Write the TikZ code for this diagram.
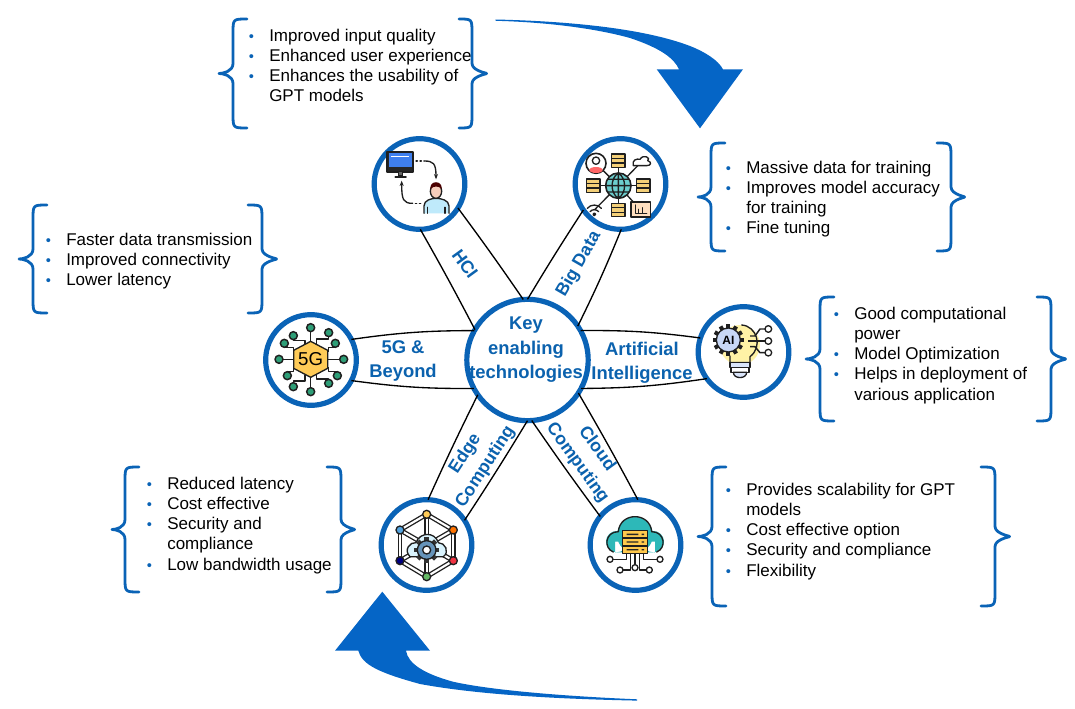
\documentclass[tikz,border=0pt]{standalone}
\usepackage{fontspec}
\setmainfont{Liberation Sans}
\usetikzlibrary{calc,arrows.meta}
\definecolor{ringblue}{HTML}{0A63B6}
\definecolor{labelblue}{HTML}{0B62AE}
\definecolor{arrowblue}{HTML}{0565C6}
\definecolor{yel}{HTML}{FFCB57}
\definecolor{grn}{HTML}{2E9E77}
\definecolor{teal1}{HTML}{2DB8B8}
\definecolor{pale}{HTML}{C8D8F6}
\definecolor{stackc}{HTML}{F3CF78}
\definecolor{screenb}{HTML}{3F7FEE}
\definecolor{skin}{HTML}{F6CDBB}
\newcommand{\bul}{\llap{\textcolor{ringblue}{\fontsize{11}{11}\selectfont •}\hspace{11.5pt}}}
% brace: xend, xbody, xtip, top, bottom
\newcommand{\bracepath}[5]{
  \draw[bracestyle] (#1,#4) .. controls ({#2},#4) and ({#2},#4) .. ({#2},{#4+14})
    -- ({#2},{(#4+#5)/2-10}) .. controls ({#2},{(#4+#5)/2-2}) and ({#3+4},{(#4+#5)/2}) .. (#3,{(#4+#5)/2})
    .. controls ({#3+4},{(#4+#5)/2}) and ({#2},{(#4+#5)/2+2}) .. ({#2},{(#4+#5)/2+10})
    -- ({#2},{#5-14}) .. controls ({#2},#5) and ({#2},#5) .. (#1,#5);
}
\tikzset{
  bracestyle/.style={draw=ringblue,line width=2.1pt,line cap=round,line join=round,fill=none},
  ring/.style={circle,draw=ringblue,line width=3.9pt,fill=white,minimum size=68pt,inner sep=0pt,outer sep=0pt},
  hubring/.style={circle,draw=ringblue,line width=3.9pt,fill=white,minimum size=91pt,inner sep=0pt,outer sep=0pt},
  spoke/.style={draw=black,line width=1pt},
  spokelabel/.style={font=\bfseries\fontsize{13.8}{18.3}\selectfont,text=labelblue,align=center,inner sep=0pt},
  tiltlabel/.style={font=\bfseries\fontsize{13.3}{18}\selectfont,text=labelblue,align=center,inner sep=0pt},
  bullets/.style={font=\fontsize{12.75}{15.2}\selectfont,align=left,anchor=north west,inner sep=0pt,text=black},
  zoomcs/.style 2 args={shift={(#1,#2)},x=0.25pt,y=-0.25pt},
  ink/.style={draw=black!88,line width=1pt,line join=round,line cap=round},
  wire/.style={draw=black!88,line width=1pt},
}
\begin{document}
\begin{tikzpicture}[x=0.75pt,y=-0.75pt]
\useasboundingbox (0,0) rectangle (1075,709);
\fill[white] (0,0) rectangle (1075,709);

% nodes
\node[hubring] (hub) at (527.5,360) {};
\node[spokelabel] (hubtext) at (526,350) {Key\\enabling\\technologies};
\node[ring] (hci) at (419.5,184) {};
\node[ring] (bigdata) at (620.5,184) {};
\node[ring] (fiveg) at (311,360) {};
\node[ring] (ai) at (743.5,352) {};
\node[ring] (edge) at (426.5,545) {};
\node[ring] (cloud) at (635.5,545) {};

% spokes
\draw[spoke] (hci.-89) to[bend left=1] (hub.150);
\draw[spoke] (hci.-32) to[bend left=1] (hub.94);
\draw[spoke] (bigdata.215) to[bend right=1] (hub.90);
\draw[spoke] (bigdata.-89) to[bend left=2] (hub.34);
\draw[spoke] (fiveg.27) to[bend left=4] (hub.151);
\draw[spoke] (fiveg.-27) to[bend right=4] (hub.208);
\draw[spoke] (ai.162) to[bend right=4] (hub.29);
\draw[spoke] (ai.216) to[bend left=4] (hub.-28);
\draw[spoke] (edge.88) to[bend left=1] (hub.215);
\draw[spoke] (edge.33) to[bend right=1] (hub.270);
\draw[spoke] (cloud.141) to[bend left=1] (hub.-86);
\draw[spoke] (cloud.87) to[bend right=1] (hub.-33);

% spoke labels
\node[tiltlabel,rotate=-54] (lhci) at (465,264) {HCI};
\node[tiltlabel,rotate=60] (lbig) at (579,264) {Big Data};
\node[spokelabel] (l5g) at (403,361) {5G \&\\Beyond};
\node[spokelabel] (lai) at (642,362.5) {Artificial\\Intelligence};
\node[tiltlabel,rotate=57] (ledge) at (475.5,460.5) {Edge\\Computing};
\node[tiltlabel,rotate=-54] (lcloud) at (587,456) {Cloud\\Computing};

% text blocks
\node[bullets] (t1) at (269,28.5) {\bul Improved input quality\\\bul Enhanced user experience\\\bul Enhances the usability of\\GPT models};
\node[bullets] (t2) at (746,160.5) {\bul Massive data for training\\\bul Improves model accuracy\\for training\\\bul Fine tuning};
\node[bullets] (t3) at (66,232.5) {\bul Faster data transmission\\\bul Improved connectivity\\\bul Lower latency};
\node[bullets] (t4) at (854,306.5) {\bul Good computational\\power\\\bul Model Optimization\\\bul Helps in deployment of\\various application};
\node[bullets] (t5) at (167,476.5) {\bul Reduced latency\\\bul Cost effective\\\bul Security and\\compliance\\\bul Low bandwidth usage};
\node[bullets] (t6) at (746,482.5) {\bul Provides scalability for GPT\\models\\\bul Cost effective option\\\bul Security and compliance\\\bul Flexibility};

% braces
\bracepath{247}{233}{219}{19}{128}
\bracepath{459}{472}{486}{19}{128}
\bracepath{725}{711}{698}{143}{251}
\bracepath{937}{951}{964}{143}{251}
\bracepath{47}{33}{19}{205}{313}
\bracepath{248}{262}{276}{205}{313}
\bracepath{834}{820}{806}{297}{421}
\bracepath{1037}{1051}{1065}{297}{421}
\bracepath{139}{125}{112}{467}{592}
\bracepath{327}{341}{354}{467}{592}
\bracepath{726}{712}{698}{467}{606}
\bracepath{981}{995}{1009}{467}{606}

% big curved arrows
\fill[arrowblue] (495.7,19.5) .. controls (560,21) and (640,27) .. (690,46)
  .. controls (705,52) and (718,60) .. (723,69.3) -- (743,69.3) -- (700,128.3) -- (656.7,69.3) -- (679,69.3)
  .. controls (674,58) and (660,48) .. (630,38) .. controls (590,27) and (540,22) .. (495.7,20.8) -- cycle;
\fill[arrowblue] (637,699.3) .. controls (560,696) and (490,690) .. (453,681.7)
  .. controls (425,674) and (408,664) .. (406,650.7) -- (430,650.7) -- (382.3,591.7) -- (335,650.7) -- (358.3,650.7)
  .. controls (362,665) and (380,673) .. (420,684) .. controls (480,695) and (560,699) .. (637,700.6) -- cycle;

% --- icons, in zoom coordinates ---
\begin{scope}[zoomcs={350}{120}]
 % HCI monitor
 \filldraw[ink,line width=1.3pt,fill=black!85] (112,97) rectangle (190,155);
 \fill[screenb] (116,100) rectangle (186,142);
 \fill[white] (124,108) rectangle (178,111);
 \filldraw[ink,fill=black!60] (146,155) rectangle (158,168);
 \draw[ink,line width=1.3pt] (136,171) -- (168,171);
 % HCI person
 \filldraw[ink,fill=cyan!25] (222,280) -- (222,258) .. controls (222,240) and (245,235) .. (258,235) .. controls (272,235) and (297,240) .. (297,258) -- (297,280);
 \draw[ink] (232,262) -- (232,280) (285,262) -- (285,280);
 \filldraw[ink,fill=skin] (258,214) ellipse (17 and 21);
 \fill[black!70!red] (241,207) .. controls (238,180) and (278,180) .. (275,207) .. controls (268,197) and (250,197) .. (241,207) -- cycle;
 \draw[ink,dotted] (198,123) -- (222,123);
 \draw[ink,-{Stealth[length=4pt]}] (222,123) .. controls (250,123) and (258,130) .. (258,178);
 \draw[ink,dotted] (212,250) -- (188,250);
 \draw[ink,-{Stealth[length=4pt]}] (188,250) .. controls (160,250) and (155,240) .. (155,182);
 % Big data
 \foreach \a/\b in {738/130,875/125,733/270,872/270,730/197,880/197,805/122,805/270}
   \draw[wire] (805,197) -- (\a,\b);
 \foreach \p in {{805,122},{730,197},{880,197},{805,270}}{
   \filldraw[ink,line width=1.2pt,fill=stackc] ($(\p)+(-20,-20)$) rectangle ($(\p)+(20,20)$);
   \draw[ink] ($(\p)+(-20,-7)$) -- ($(\p)+(20,-7)$) ($(\p)+(-20,7)$) -- ($(\p)+(20,7)$);
 }
 \filldraw[ink,line width=1.2pt,fill=white] (738,130) circle[radius=30];
 \fill[red!60] (738,150) ellipse (20 and 9);
 \filldraw[ink,fill=white] (738,122) circle[radius=11];
 \filldraw[ink,fill=white] (850,137) .. controls (845,120) and (860,115) .. (870,118) .. controls (880,100) and (905,115) .. (893,122) .. controls (905,125) and (905,137) .. (890,137) -- cycle;
 \filldraw[ink,line width=1.2pt,fill=teal1!70] (805,197) circle[radius=38];
 \draw[ink] (805,159) -- (805,235) (767,197) -- (843,197) (773,178) -- (837,178) (773,216) -- (837,216) (805,159) .. controls (780,175) and (780,219) .. (805,235) (805,159) .. controls (830,175) and (830,219) .. (805,235);
 \draw[ink] (712,265) .. controls (722,252) and (744,252) .. (754,265) (720,275) .. controls (727,267) and (739,267) .. (746,275);
 \filldraw[ink,fill=black] (733,283) circle[radius=4];
 \filldraw[ink,line width=1.2pt,fill=orange!25] (843,246) rectangle (902,291);
 \draw[ink] (856,255) -- (856,280) -- (890,280) (866,280) -- (866,268) (877,280) -- (877,263);
\end{scope}

\begin{scope}[zoomcs={250}{290}]
 \foreach \a/\b/\c/\d in {182/113/182/165,130/137/165/165,236/128/200/165,103/160/130/185,256/160/235/185,87/208/130/208,281/208/235/208,112/257/130/232,262/257/235/232,130/290/165/255,236/280/200/255,182/305/182/255}
   \draw[black!88,line width=1.2pt,line join=round] (\a,\b) -- (\a,{(\b+\d)/2}) -- (\c,{(\b+\d)/2}) -- (\c,\d);
 \foreach \a/\b in {182/113,130/137,236/128,103/160,256/160,87/208,281/208,112/257,262/257,130/290,236/280,182/305}
   \filldraw[ink,line width=1.1pt,fill=grn] (\a,\b) circle[radius=12];
 \filldraw[ink,fill=yel] (182,154) -- (233,181) -- (233,235) -- (182,262) -- (131,235) -- (131,181) -- cycle;
 \node[font=\fontsize{14}{14}\selectfont,text=black,inner sep=0pt] (fgt) at (182,208) {5G};
\end{scope}

\begin{scope}[zoomcs={580}{290}]
 \fill[orange!30!yellow!35] (480,165) circle[radius=60];
 \draw[ink] (485,105) .. controls (530,108) and (550,170) .. (510,200) -- (510,218) -- (450,218) -- (450,198);
 \filldraw[ink,fill=pale!70] (450,218) rectangle (510,232);
 \filldraw[ink,fill=white] (453,232) rectangle (507,247);
 \filldraw[ink,fill=pale!70] (460,247) .. controls (460,268) and (500,268) .. (500,247) -- cycle;
 \foreach \a/\b/\c/\d in {565/117/510/138,565/153/505/153,565/188/510/170}
   \draw[black!88,line width=1.1pt] (\a,\b) -- (540,\b) -- (525,\d) -- (\c,\d);
 \foreach \b in {117,153,188} \filldraw[ink,fill=white] (565,\b) circle[radius=10];
 \foreach \t in {0,30,...,330}
   \fill[black!88,rotate around={\t:(445,150)}] (439,103) rectangle (451,115);
 \filldraw[ink,fill=pale] (445,150) circle[radius=36];
 \node[font=\bfseries\fontsize{9}{10}\selectfont,text=black,inner sep=0pt] (ait) at (445,150) {AI};
\end{scope}

\begin{scope}[zoomcs={360}{400}]
 % edge
 \foreach \a/\b/\c/\d in {200/343/280/390,280/390/280/482,280/482/200/530,200/530/120/482,120/482/120/390,120/390/200/343,200/343/200/530,120/390/280/482,280/390/120/482}
   {\draw[black!88,line width=3.6pt] (\a,\b) -- (\c,\d); \draw[white,line width=1.6pt] (\a,\b) -- (\c,\d);}
 \filldraw[ink,fill=cyan!15] (150,470) .. controls (130,450) and (150,425) .. (168,428) .. controls (180,395) and (225,395) .. (235,428) .. controls (255,428) and (270,455) .. (250,470) -- cycle;
 \foreach \t in {0,45,...,315}
   \fill[black!80,rotate around={\t:(200,450)}] (193,412) rectangle (207,425);
 \filldraw[ink,fill=blue!45!cyan!55!black!60] (200,450) circle[radius=28];
 \filldraw[ink,fill=white] (200,450) circle[radius=12];
 \foreach \a/\b/\c in {200/343/yel,280/390/orange!90!red,280/482/red!70!purple!80,200/530/green!55!black!60,120/482/blue!50!black,120/390/cyan!70!blue!70}
   \filldraw[ink,fill=\c] (\a,\b) circle[radius=12];
 % cloud
 \fill[teal1] (825,405) circle[radius=54] (770,425) circle[radius=32] (880,425) circle[radius=32] (765,425) rectangle (885,457);
 \draw[ink] (760,456) .. controls (730,445) and (735,395) .. (775,395) .. controls (780,335) and (870,335) .. (875,395) .. controls (915,395) and (920,445) .. (890,456);
 \foreach \a/\b/\c/\d in {750/478/800/460,780/510/812/460,825/503/825/460,868/510/838/460,900/478/850/460}
   \draw[black!88,line width=1.1pt,line join=round] (\a,\b) -- (\c,\b) -- (\c,\d);
 \foreach \a/\b in {750/478,780/510,825/503,868/510,900/478}
   \filldraw[ink,fill=white] (\a,\b) circle[radius=9];
 \foreach \y in {392,415,438}{
   \filldraw[ink,fill=orange!60!yellow!70] (788,\y) rectangle (862,{\y+22});
   \fill[black!85] (800,{\y+9}) rectangle (835,{\y+13}) (845,{\y+9}) rectangle (852,{\y+13});
 }
\end{scope}
\end{tikzpicture}
\end{document}
